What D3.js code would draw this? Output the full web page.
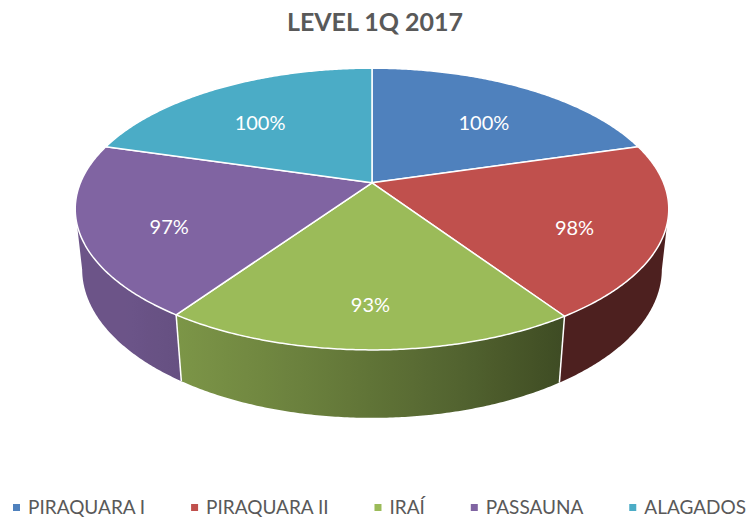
<!DOCTYPE html>
<html>
<head>
<meta charset="utf-8">
<script src="https://cdn.jsdelivr.net/npm/d3@7"></script>
<style>
  body { margin: 0; background: #fff; }
  svg { display: block; }
</style>
</head>
<body>
<div id="chart"></div>
<script>
  // chart data
  let categories = ["PIRAQUARA I", "PIRAQUARA II", "IRAÍ", "PASSAUNA", "ALAGADOS"];
  let values = [100, 98, 93, 97, 100];
  let colors = ["#4F81BD", "#C0504D", "#9BBB59", "#8064A2", "#4BACC6"];
  let title = "LEVEL 1Q 2017";

  let width = 749, height = 519;

  let svg = d3.select("#chart").append("svg")
    .attr("width", width)
    .attr("height", height);

  let defs = svg.append("defs");

  // 3d view of the pie (perspective camera looking down)
  let cx = 372, cy = 182.8,
      focal = 1385, dist = 4.75,
      elev = 27.8 * Math.PI / 180,
      thick = 0.2355;

  let radius = d3.scaleLinear().domain([0, 1]).range([0, 1]);

  function project(a, r, h) {
    let x = radius(r) * Math.sin(a),
        d = radius(r) * Math.cos(a),
        depth = dist + d * Math.cos(elev) - h * Math.sin(elev),
        v = d * Math.sin(elev) + h * Math.cos(elev);
    return [cx + focal * x / depth, cy - focal * v / depth];
  }

  let pie = d3.pie().sort(null).value(function(d) { return d; });
  let arcs = pie(values);

  let light = function(a) {
    let l = 0.49 + 0.38 * Math.cos(a - 250 * Math.PI / 180);
    return Math.max(0.4, Math.min(0.84, l));
  };

  let line = d3.line();
  let step = Math.PI / 360;

  // only the front part of the wall can be seen
  let pLimit = Math.cos(elev) / dist,
      visMin = Math.acos(-pLimit),
      visMax = 2 * Math.PI - visMin;

  let sides = arcs.map(function(s, i) {
    return { i: i, a: Math.max(s.startAngle, visMin), b: Math.min(s.endAngle, visMax) };
  }).filter(function(s) { return s.b > s.a; });

  // horizontal shading along each wall
  sides.forEach(function(s) {
    let x0 = project(s.a, 1, 0)[0], x1 = project(s.b, 1, 0)[0];
    let grad = defs.append("linearGradient")
      .attr("id", "side" + s.i)
      .attr("gradientUnits", "userSpaceOnUse")
      .attr("x1", x0).attr("x2", x1)
      .attr("y1", 0).attr("y2", 0);
    for (let k = 0; k <= 20; k++) {
      let a = s.a + (s.b - s.a) * k / 20,
          x = project(a, 1, 0)[0];
      grad.append("stop")
        .attr("offset", (x - x0) / (x1 - x0))
        .attr("stop-color", d3.interpolateRgb("#000", colors[s.i])(light(a)));
    }
  });

  function sidePoints(s) {
    let top = [], bottom = [];
    for (let a = s.a; a < s.b; a += step) {
      top.push(project(a, 1, 0));
      bottom.push(project(a, 1, -thick));
    }
    top.push(project(s.b, 1, 0));
    bottom.push(project(s.b, 1, -thick));
    return top.concat(bottom.reverse());
  }

  svg.append("g").attr("class", "sides")
    .selectAll("path")
    .data(sides)
    .enter().append("path")
      .attr("d", function(s) { return line(sidePoints(s)) + "Z"; })
      .attr("fill", function(s) { return `url(#side${s.i})`; });

  // white edges where slices meet on the visible wall
  let edges = arcs.map(function(s) { return s.startAngle; })
    .filter(function(a) { return a > visMin && a < visMax; });

  svg.append("g").attr("class", "edges")
    .selectAll("path")
    .data(edges)
    .enter().append("path")
      .attr("d", function(a) { return line([project(a, 1, 0), project(a, 1, -thick)]); })
      .attr("stroke", "#fff")
      .attr("stroke-width", 1.5)
      .attr("fill", "none");

  // top faces
  function topPoints(s) {
    let pts = [project(0, 0, 0)];
    for (let a = s.startAngle; a < s.endAngle; a += step) pts.push(project(a, 1, 0));
    pts.push(project(s.endAngle, 1, 0));
    return pts;
  }

  svg.append("g").attr("class", "tops")
    .selectAll("path")
    .data(arcs)
    .enter().append("path")
      .attr("d", function(s) { return line(topPoints(s)) + "Z"; })
      .attr("fill", function(s, i) { return colors[i]; })
      .attr("stroke", "#fff")
      .attr("stroke-width", 1.5)
      .attr("stroke-linejoin", "round");

  // data labels, placed at 70% of the drawn ellipse, halfway between the drawn slice edges
  let far = project(0, 1, 0), near = project(Math.PI, 1, 0),
      ecy = (far[1] + near[1]) / 2 - 4,
      ery = (near[1] - far[1]) / 2,
      erx = project(visMin, 1, 0)[0] - cx;

  function screenAngle(a) {
    let p = project(a, 1, 0),
        t = Math.atan2((p[0] - cx) / erx, -(p[1] - ecy) / ery);
    return t < 0 ? t + 2 * Math.PI : t;
  }

  function labelPos(s) {
    let a0 = screenAngle(s.startAngle),
        a1 = s.endAngle >= 2 * Math.PI - 1e-9 ? 2 * Math.PI : screenAngle(s.endAngle),
        m = (a0 + a1) / 2;
    return [cx + 0.7 * erx * Math.sin(m), ecy - 0.7 * ery * Math.cos(m)];
  }

  svg.append("g").attr("class", "labels")
    .selectAll("text")
    .data(arcs)
    .enter().append("text")
      .attr("x", function(s) { return labelPos(s)[0]; })
      .attr("y", function(s) { return labelPos(s)[1]; })
      .attr("text-anchor", "middle")
      .attr("dominant-baseline", "central")
      .attr("font-family", "Lato, 'Open Sans', sans-serif")
      .attr("font-size", "20px")
      .attr("fill", "#fff")
      .text(function(s) { return s.data + "%"; });

  // title
  svg.append("text")
    .attr("x", 375)
    .attr("y", 31)
    .attr("text-anchor", "middle")
    .attr("font-family", "Lato, 'Open Sans', sans-serif")
    .attr("font-weight", "700")
    .attr("font-size", "25px")
    .attr("fill", "#595959")
    .text(title);

  // legend, spread between the left edge and the right edge
  let legend = svg.append("g").attr("class", "legend");
  let items = legend.selectAll("g")
    .data(categories)
    .enter().append("g");

  items.append("rect")
    .attr("width", 7)
    .attr("height", 7)
    .attr("y", -10)
    .attr("fill", function(d, i) { return colors[i]; });

  items.append("text")
    .attr("x", 15)
    .attr("font-family", "Lato, 'Open Sans', sans-serif")
    .attr("font-size", "19px")
    .attr("fill", "#595959")
    .text(function(d) { return d; });

  let widths = [];
  items.each(function() {
    widths.push(15 + this.querySelector("text").getComputedTextLength());
  });
  let startX = 13, endX = 746,
      gap = (endX - startX - d3.sum(widths)) / (categories.length - 1);
  items.attr("transform", function(d, i) {
    return `translate(${startX + d3.sum(widths.slice(0, i)) + gap * i},514)`;
  });
</script>
</body>
</html>
